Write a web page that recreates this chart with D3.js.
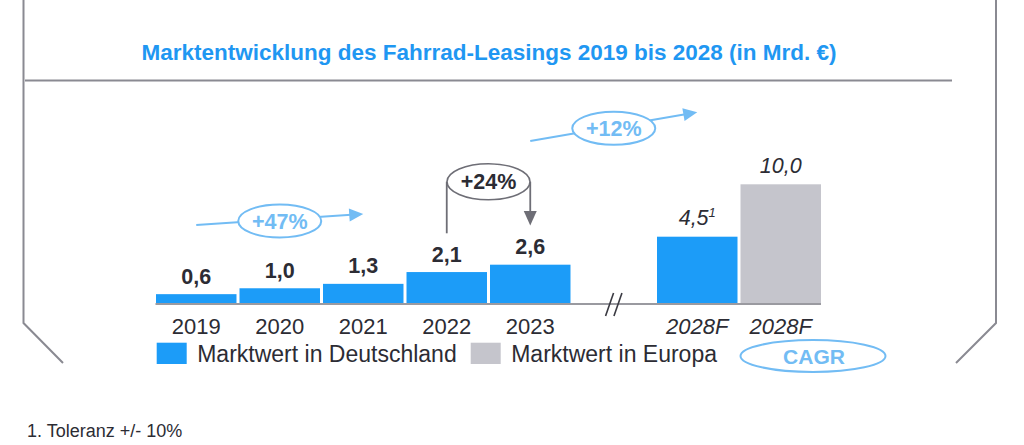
<!DOCTYPE html>
<html>
<head>
<meta charset="utf-8">
<script src="https://cdn.jsdelivr.net/npm/d3@7"></script>
<style>
  html, body { margin: 0; padding: 0; background: #fff; }
  svg { display: block; }
  text { font-family: "Liberation Sans", Arial, Helvetica, sans-serif; }
</style>
</head>
<body>
<div id="chart"></div>
<script>
// ---------- data ----------
const title = "Marktentwicklung des Fahrrad-Leasings 2019 bis 2028 (in Mrd. €)";
const slots = ["2019", "2020", "2021", "2022", "2023", "break", "2028F-DE", "2028F-EU"];
const categories = ["2019", "2020", "2021", "2022", "2023", "2028F-DE", "2028F-EU"];
const tickLabels = ["2019", "2020", "2021", "2022", "2023", "2028F", "2028F"];
const values = [0.6, 1.0, 1.3, 2.1, 2.6, 4.5, 10.0];
const valueLabels = ["0,6", "1,0", "1,3", "2,1", "2,6", "4,5", "10,0"];
const seriesOf = ["DE", "DE", "DE", "DE", "DE", "DE", "EU"];
const forecast = [false, false, false, false, false, true, true];
const footnoteMark = ["", "", "", "", "", "1", ""];
const seriesNames = ["Marktwert in Deutschland", "Marktwert in Europa"];
const cagrText = ["+47%", "+24%", "+12%"];
const footnote = "1. Toleranz +/- 10%";
const legendExtra = "CAGR";

// ---------- style ----------
const W = 1024, H = 445;
const BLUE = "#1c9cf8", GREY = "#c5c5cc", LIGHT = "#72bcf4", DARK = "#2c2c34", FRAME = "#8a8a92";

const svg = d3.select("#chart").append("svg").attr("width", W).attr("height", H);

// frame
svg.append("path")
  .attr("d", "M23.5,0 L23.5,323 L63,363")
  .attr("fill", "none").attr("stroke", FRAME).attr("stroke-width", 2);
svg.append("path")
  .attr("d", "M996,0 L996,323 L956,363")
  .attr("fill", "none").attr("stroke", FRAME).attr("stroke-width", 2);
svg.append("line").attr("x1", 25).attr("x2", 952).attr("y1", 80.5).attr("y2", 80.5)
  .attr("stroke", FRAME).attr("stroke-width", 2);

// title
svg.append("text").attr("x", 489).attr("y", 60).attr("text-anchor", "middle")
  .attr("font-size", 22.5).attr("font-weight", "bold").attr("fill", "#1f97f2").text(title);

// scales
const x = d3.scaleBand().domain(slots).range([156, 821]).paddingInner(0.036).paddingOuter(0);
const baseY = 303;
const y = d3.scaleLinear().domain([0, 4.5, 10]).range([baseY, 236.7, 184.3]);
const bw = x.bandwidth();
const cx = k => x(k) + bw / 2;

// bars
svg.append("g").selectAll("rect").data(categories).join("rect")
  .attr("x", d => x(d)).attr("width", bw)
  .attr("y", (d, i) => y(values[i])).attr("height", (d, i) => baseY - y(values[i]))
  .attr("fill", (d, i) => seriesOf[i] === "DE" ? BLUE : GREY);

// axis line
svg.append("line").attr("x1", 155.5).attr("x2", 821).attr("y1", 304).attr("y2", 304)
  .attr("stroke", "#9a9aa0").attr("stroke-width", 2);

// axis break
const bx = cx("break");
[-4.2, 4.2].forEach(o => {
  svg.append("line").attr("x1", bx + o - 4).attr("y1", 316).attr("x2", bx + o + 4).attr("y2", 293)
    .attr("stroke", "#3a3a42").attr("stroke-width", 1.6);
});

// tick labels
svg.append("g").selectAll("text").data(categories).join("text")
  .attr("x", d => cx(d)).attr("y", 334).attr("text-anchor", "middle")
  .attr("font-size", 22).attr("fill", DARK)
  .attr("font-style", (d, i) => forecast[i] ? "italic" : "normal")
  .text((d, i) => tickLabels[i]);

// value labels
const vl = svg.append("g").selectAll("text").data(categories).join("text")
  .attr("x", d => cx(d))
  .attr("y", (d, i) => y(values[i]) - (forecast[i] ? 11.5 : 10.5))
  .attr("text-anchor", "middle")
  .attr("font-size", (d, i) => forecast[i] ? 21.5 : 21.5)
  .attr("font-weight", (d, i) => forecast[i] ? "normal" : "bold")
  .attr("font-style", (d, i) => forecast[i] ? "italic" : "normal")
  .attr("fill", DARK);
vl.each(function(d, i) {
  const t = d3.select(this);
  t.append("tspan").text(valueLabels[i]);
  if (footnoteMark[i]) t.append("tspan").attr("font-size", 13).attr("dy", -8).text(footnoteMark[i]);
});

// arrow helper
function arrowHead(x1, y1, x2, y2, len, half, color) {
  const a = Math.atan2(y2 - y1, x2 - x1);
  const bxp = x2 - len * Math.cos(a), byp = y2 - len * Math.sin(a);
  const px = -Math.sin(a) * half, py = Math.cos(a) * half;
  svg.append("path")
    .attr("d", `M${x2},${y2} L${bxp + px},${byp + py} L${bxp - px},${byp - py} Z`)
    .attr("fill", color);
}
function cagrArrow(xs, ys, xe, ye, ex, ey, label, color, textColor) {
  const a = Math.atan2(ye - ys, xe - xs);
  svg.append("line").attr("x1", xs).attr("y1", ys).attr("x2", xe - 12 * Math.cos(a))
    .attr("y2", ye - 12 * Math.sin(a))
    .attr("stroke", color).attr("stroke-width", 2);
  arrowHead(xs, ys, xe, ye, 14, 6.5, color);
  svg.append("ellipse").attr("cx", ex).attr("cy", ey).attr("rx", 41.5).attr("ry", 16.5)
    .attr("fill", "#fff").attr("stroke", color).attr("stroke-width", 2);
  svg.append("text").attr("x", ex).attr("y", ey + 7.5).attr("text-anchor", "middle")
    .attr("font-size", 21.5).attr("font-weight", "bold").attr("fill", textColor).text(label);
}

// +47%
cagrArrow(cx("2019"), 225, cx("2021"), 214, cx("2020"), 221, cagrText[0], LIGHT, LIGHT);
// +12%
cagrArrow(cx("2023"), 141, cx("2028F-DE"), 112.3, cx("break"), 128.3, cagrText[2], LIGHT, LIGHT);

// +24% bracket
const l24 = cx("2022"), r24 = cx("2023"), m24 = (l24 + r24) / 2, e24 = 181.7;
svg.append("path")
  .attr("d", `M${l24},233.3 L${l24},${e24}`)
  .attr("stroke", "#6e6e76").attr("stroke-width", 1.8).attr("fill", "none");
svg.append("path")
  .attr("d", `M${r24},${e24} L${r24},214`)
  .attr("stroke", "#6e6e76").attr("stroke-width", 1.8).attr("fill", "none");
svg.append("path")
  .attr("d", `M${r24},225.5 L${r24 - 6.5},211 L${r24 + 6.5},211 Z`).attr("fill", "#6e6e76");
svg.append("ellipse").attr("cx", m24).attr("cy", e24).attr("rx", 41.5).attr("ry", 18)
  .attr("fill", "#fff").attr("stroke", "#6e6e76").attr("stroke-width", 1.6);
svg.append("text").attr("x", m24).attr("y", e24 + 7.5).attr("text-anchor", "middle")
  .attr("font-size", 21.5).attr("font-weight", "bold").attr("fill", DARK).text(cagrText[1]);

// legend
const legend = [
  { name: seriesNames[0], color: BLUE, x: 156.7 },
  { name: seriesNames[1], color: GREY, x: 470.7 }
];
legend.forEach(l => {
  svg.append("rect").attr("x", l.x).attr("y", 342.7).attr("width", 30).attr("height", 21.3).attr("fill", l.color);
  svg.append("text").attr("x", l.x + 40.5).attr("y", 362).attr("font-size", 23).attr("fill", DARK).text(l.name);
});
svg.append("ellipse").attr("cx", 813).attr("cy", 356).attr("rx", 72.5).attr("ry", 16)
  .attr("fill", "none").attr("stroke", LIGHT).attr("stroke-width", 2);
svg.append("text").attr("x", 814).attr("y", 363.5).attr("text-anchor", "middle")
  .attr("font-size", 21).attr("font-weight", "bold").attr("fill", LIGHT).text(legendExtra);

// footnote
svg.append("text").attr("x", 27).attr("y", 437).attr("font-size", 18).attr("fill", DARK).text(footnote);
</script>
</body>
</html>
